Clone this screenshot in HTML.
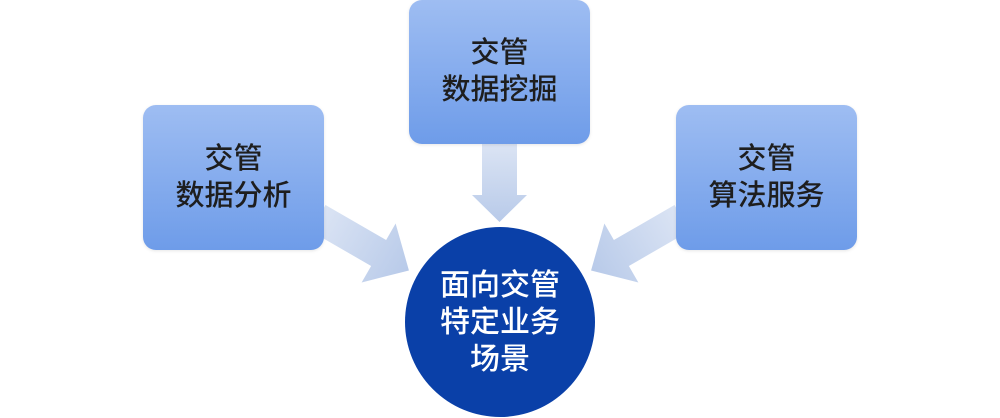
<!DOCTYPE html>
<html><head><meta charset="utf-8"><style>
body{margin:0;width:1000px;height:418px;background:#fff;overflow:hidden;position:relative;font-family:"Liberation Sans","Noto Sans CJK SC",sans-serif}
.box{position:absolute;width:181px;height:145px;border-radius:13px;background:linear-gradient(#9ebdf2,#6e9ce9);display:flex;align-items:center;justify-content:center;text-align:center;color:#1e1e1e;font-size:29px;line-height:37px;font-weight:500;box-shadow:0 1px 3px rgba(0,0,0,.1)}
.circ{position:absolute;left:405px;top:227px;width:190px;height:190px;border-radius:50%;background:#0a40a8;color:#fff;display:flex;align-items:center;justify-content:center;text-align:center;font-size:30px;line-height:37px;font-weight:500}
svg{position:absolute;left:0;top:0}
</style></head><body>
<svg width="1000" height="418">
<defs>
<linearGradient id="g" x1="0" x2="1" y1="0" y2="0"><stop offset="0" stop-color="#dbe4f4"/><stop offset="1" stop-color="#b8cae9"/></linearGradient>
<linearGradient id="gv" x1="0" x2="0" y1="0" y2="1"><stop offset="0" stop-color="#dbe4f4"/><stop offset="1" stop-color="#b8cae9"/></linearGradient>
</defs>
<polygon transform="translate(318,218) rotate(30)" points="0,-15 70,-15 70,-34 105,0 70,34 70,15 0,15" fill="url(#g)"/>
<polygon transform="translate(682,218) rotate(150)" points="0,-15 70,-15 70,-34 105,0 70,34 70,15 0,15" fill="url(#g)"/>
<polygon points="482,144 517,144 517,195 527,195 499.5,222 472,195 482,195" fill="url(#gv)"/>
</svg>
<div class="box" style="left:143px;top:105px">交管<br>数据分析</div>
<div class="box" style="left:409px;top:0px;height:144px">交管<br>数据挖掘</div>
<div class="box" style="left:676px;top:105px">交管<br>算法服务</div>
<div class="circ">面向交管<br>特定业务<br>场景</div>
</body></html>
